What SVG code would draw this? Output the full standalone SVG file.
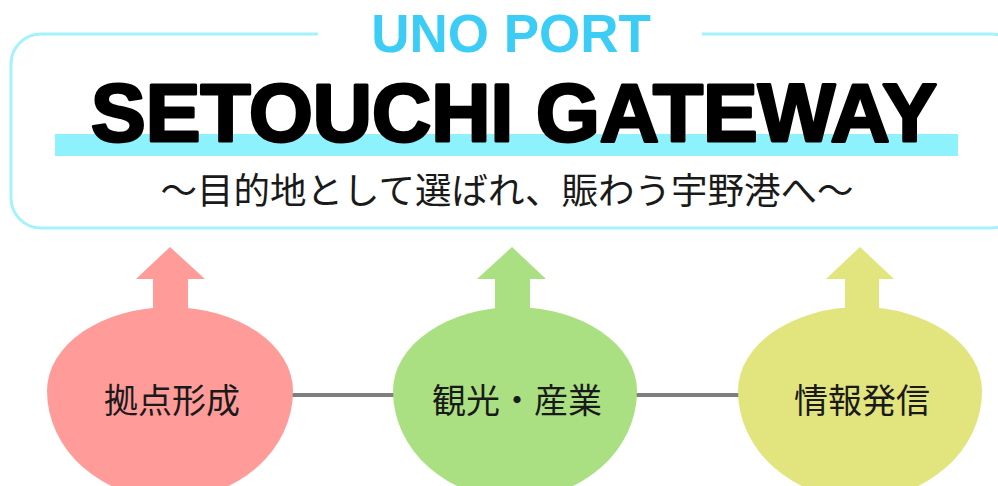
<svg xmlns="http://www.w3.org/2000/svg" width="998" height="486" viewBox="0 0 998 486">
<style>
.jp{font-family:"Noto Sans CJK JP","Noto Sans",sans-serif;fill:#1a1a1a;text-anchor:middle}
.lbl{font-size:34px}
.conn{stroke:#7f7f7f;stroke-width:4}
</style>
<rect width="998" height="486" fill="#ffffff"/>
<g id="header">
<rect x="11" y="34" width="1010" height="194" rx="30" ry="30" fill="none" stroke="#a4f2fb" stroke-width="3"/>
<rect x="318" y="0" width="384" height="60" fill="#ffffff"/>
<text x="511" y="52" font-family="Liberation Sans, Arial, sans-serif" font-weight="bold" font-size="53" fill="#3ccdf6" text-anchor="middle">UNO PORT</text>
<rect x="55" y="134" width="903" height="22" fill="#8ef2fc"/>
<text x="514" y="141" font-family="Liberation Sans, Arial, sans-serif" font-weight="bold" font-size="82" fill="#000" stroke="#000" stroke-width="3" text-anchor="middle" stroke-linejoin="round">SETOUCHI GATEWAY</text>
<text x="507" y="204" class="jp" font-size="36.5">～目的地として選ばれ、賑わう宇野港へ～</text>
</g>
<g id="connectors">
<line class="conn" x1="290" y1="395" x2="397" y2="395"/>
<line class="conn" x1="633" y1="395" x2="742" y2="395"/>
</g>
<g id="node-kyoten">
<polygon points="170,247 205,279 188,279 188,315 153,315 153,279 136,279" fill="#ff9c9a"/>
<path d="M47,391 A123,84 0 0 1 293,391 A123,108 0 0 1 47,391 Z" fill="#ff9c9a"/>
<text x="172" y="413" class="jp lbl">拠点形成</text>
</g>
<g id="node-kanko">
<polygon points="512,247 546,279 530,279 530,315 495,315 495,279 477,279" fill="#aae082"/>
<path d="M393,391 A122,84 0 0 1 637,391 A122,108 0 0 1 393,391 Z" fill="#aae082"/>
<text x="517" y="413" class="jp lbl">観光・産業</text>
</g>
<g id="node-joho">
<polygon points="860,247 894,279 879,279 879,315 845,315 845,279 826,279" fill="#e2e47e"/>
<path d="M738,391 A122,84 0 0 1 982,391 A122,108 0 0 1 738,391 Z" fill="#e2e47e"/>
<text x="862" y="413" class="jp lbl">情報発信</text>
</g>
</svg>
